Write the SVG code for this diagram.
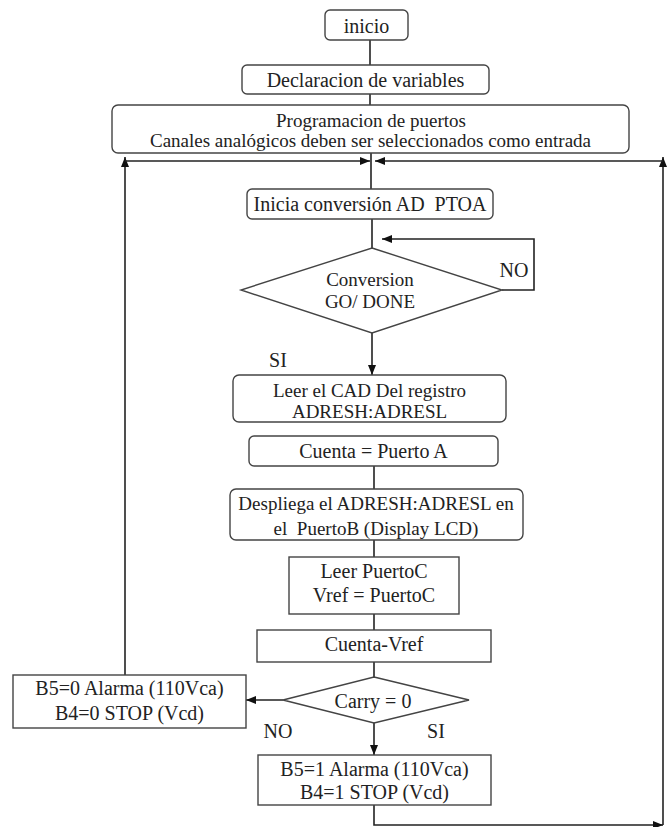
<svg xmlns="http://www.w3.org/2000/svg" width="669" height="827" viewBox="0 0 669 827">
<defs>
<marker id="ah" markerUnits="userSpaceOnUse" markerWidth="10" markerHeight="8" refX="10" refY="4" orient="auto">
<path d="M0,0 L10,4 L0,8 Z" fill="#111"/>
</marker>
<style>
.b{fill:#fff;stroke:#444;stroke-width:1.4}
.t{font-family:"Liberation Serif","Times New Roman",serif;font-size:20px;fill:#222;text-anchor:middle;white-space:pre}
.s{font-size:19px}
.c{fill:none;stroke:#222;stroke-width:1.6}
.a{fill:none;stroke:#222;stroke-width:1.6;marker-end:url(#ah)}
</style>
</defs>
<rect width="669" height="827" fill="#fff"/>
<g id="connectors">
<path class="c" d="M370,40 V65"/>
<path class="c" d="M370,94 V105"/>
<path class="c" d="M371,153 V189"/>
<path class="c" d="M372,219 V248"/>
<path class="a" d="M502,290 H534 V239 H382"/>
<path class="a" d="M372,333 V375"/>
<path class="c" d="M374,466 V489"/>
<path class="c" d="M374,540 V557"/>
<path class="c" d="M374,614 V630"/>
<path class="c" d="M374,662 V677"/>
<path class="a" d="M283,700 H246"/>
<path class="a" d="M374,723 V755"/>
<path class="a" d="M125,675 V157"/>
<path class="a" d="M125,161 H370"/>
<path class="a" d="M374,805 V825 H663"/>
<path class="a" d="M663,825 V157"/>
<path class="a" d="M663,161 H375"/>
<text class="t" x="514" y="277">NO</text>
<text class="t" x="278" y="367">SI</text>
<text class="t" x="278" y="738">NO</text>
<text class="t" x="436" y="738">SI</text>
</g>
<g id="inicio">
<rect class="b" x="325" y="10" width="83" height="30" rx="5"/>
<text class="t" x="366.5" y="33">inicio</text>
</g>
<g id="declaracion">
<rect class="b" x="242" y="65" width="247" height="29" rx="5"/>
<text class="t" x="365.5" y="87">Declaracion de variables</text>
</g>
<g id="programacion">
<rect class="b" x="112" y="105" width="517" height="48" rx="6"/>
<text class="t s" x="371" y="127">Programacion de puertos</text>
<text class="t s" x="370.5" y="147">Canales analógicos deben ser seleccionados como entrada</text>
</g>
<g id="inicia">
<rect class="b" x="247" y="189" width="246" height="30" rx="5"/>
<text class="t" x="370" y="211">Inicia conversión AD  PTOA</text>
</g>
<g id="conversion">
<polygon class="b" points="372,248 502,290 372,333 241,290"/>
<text class="t s" x="370" y="286">Conversion</text>
<text class="t s" x="370" y="308">GO/ DONE</text>
</g>
<g id="leer-cad">
<rect class="b" x="233" y="375" width="273" height="47" rx="6"/>
<text class="t s" x="369.5" y="397">Leer el CAD Del registro</text>
<text class="t s" x="369.5" y="418">ADRESH:ADRESL</text>
</g>
<g id="cuenta">
<rect class="b" x="249" y="436" width="249" height="30" rx="5"/>
<text class="t" x="373.5" y="458">Cuenta = Puerto A</text>
</g>
<g id="despliega">
<rect class="b" x="230" y="489" width="293" height="51" rx="6"/>
<text class="t s" x="376" y="510">Despliega el ADRESH:ADRESL en</text>
<text class="t s" x="376" y="535">el  PuertoB (Display LCD)</text>
</g>
<g id="leer-puertoc">
<rect class="b" x="289" y="557" width="170" height="57"/>
<text class="t" x="374" y="578">Leer PuertoC</text>
<text class="t" x="374" y="602">Vref = PuertoC</text>
</g>
<g id="cuenta-vref">
<rect class="b" x="257" y="630" width="234" height="32"/>
<text class="t" x="374" y="651">Cuenta-Vref</text>
</g>
<g id="carry">
<polygon class="b" points="374,677 469,700 374,723 283,700"/>
<text class="t" x="373" y="708">Carry = 0</text>
</g>
<g id="b5-0">
<rect class="b" x="13" y="675" width="233" height="53"/>
<text class="t" x="129.5" y="695">B5=0 Alarma (110Vca)</text>
<text class="t" x="129.5" y="720">B4=0 STOP (Vcd)</text>
</g>
<g id="b5-1">
<rect class="b" x="258" y="755" width="233" height="50"/>
<text class="t" x="374.5" y="776">B5=1 Alarma (110Vca)</text>
<text class="t" x="374.5" y="799">B4=1 STOP (Vcd)</text>
</g>
</svg>
